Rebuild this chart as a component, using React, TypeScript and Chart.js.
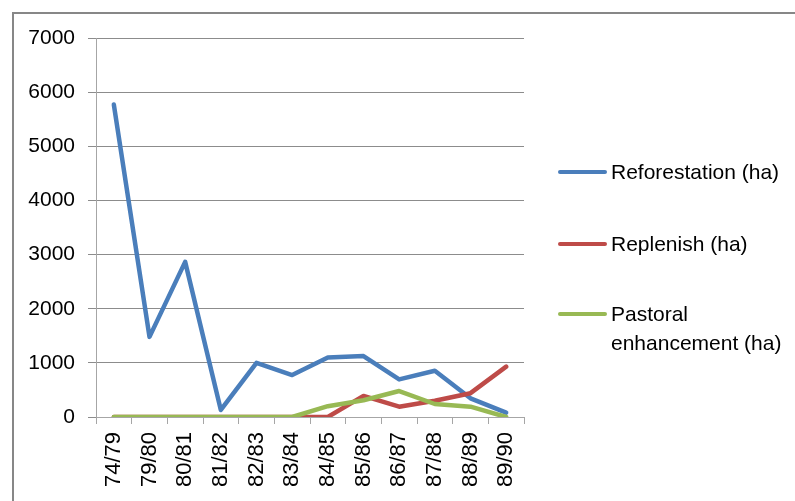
import React, { useEffect, useRef } from "react";
import { Chart, registerables } from "chart.js";

Chart.register(...registerables);

const categories = ["74/79", "79/80", "80/81", "81/82", "82/83", "83/84", "84/85", "85/86", "86/87", "87/88", "88/89", "89/90"];
const reforestation = [5770, 1480, 2865, 130, 1000, 775, 1100, 1125, 695, 855, 345, 80];
const replenish = [0, 0, 0, 0, 0, 0, 0, 390, 190, 300, 440, 930];
const pastoral = [0, 0, 0, 0, 0, 0, 200, 310, 480, 240, 190, 0];
const seriesNames = ["Reforestation (ha)", "Replenish (ha)", "Pastoral enhancement (ha)"];
const seriesColors = ["#4A7EBB", "#BE4B48", "#98B954"];

const FONT = "'Liberation Sans', Arial, sans-serif";

export default function App() {
  const canvasRef = useRef<HTMLCanvasElement | null>(null);

  useEffect(() => {
    const canvas = canvasRef.current;
    if (!canvas) return;
    const chart = new Chart(canvas, {
      type: "line",
      data: {
        labels: categories,
        datasets: [reforestation, replenish, pastoral].map((d, i) => ({
          label: seriesNames[i],
          data: d,
          borderColor: seriesColors[i],
          backgroundColor: seriesColors[i],
          borderWidth: 4.5,
          pointRadius: 0,
          tension: 0,
          borderCapStyle: "round" as const,
          borderJoinStyle: "round" as const,
          order: i === 0 ? 2 : i === 1 ? 1 : 0,
        })),
      },
      options: {
        responsive: false,
        animation: false,
        layout: { padding: { left: 0, top: 38, right: 271, bottom: 0 } },
        plugins: { legend: { display: false }, tooltip: { enabled: false } },
        scales: {
          x: {
            type: "category",
            offset: true,
            afterFit: (s: any) => { s.height = 84; },
            grid: { drawOnChartArea: false, drawTicks: true, tickLength: 7, offset: true, color: "#a6a6a6", lineWidth: 1 },
            border: { display: true, color: "#a6a6a6", width: 1 },
            ticks: { minRotation: 90, maxRotation: 90, autoSkip: false, padding: 8, color: "#000", font: { family: FONT, size: 22 } },
          },
          y: {
            min: 0,
            max: 7000,
            afterFit: (s: any) => { s.width = 96; },
            grid: { color: "#8c8c8c", lineWidth: 1, drawTicks: true, tickLength: 8 },
            border: { display: true, color: "#a6a6a6", width: 1 },
            ticks: { stepSize: 1000, padding: 13, color: "#000", font: { family: FONT, size: 21 }, callback: (v: any) => String(v) },
          },
        },
      },
    });
    return () => chart.destroy();
  }, []);

  const legendRows = [
    { y: 172, lines: ["Reforestation (ha)"], color: seriesColors[0] },
    { y: 244, lines: ["Replenish (ha)"], color: seriesColors[1] },
    { y: 314, lines: ["Pastoral", "enhancement (ha)"], color: seriesColors[2] },
  ];

  return (
    <div style={{ position: "fixed", left: 0, top: 0, width: 795, height: 501, overflow: "hidden", background: "#fff" }}>
      <div style={{ position: "absolute", left: 12, top: 12, width: 820, height: 520, border: "2px solid #878787", boxSizing: "border-box" }} />
      <canvas ref={canvasRef} width={795} height={501} style={{ position: "absolute", left: 0, top: 0, width: 795, height: 501 }} />
      {legendRows.map((r, i) => (
        <div key={i}>
          <div style={{ position: "absolute", left: 558, top: r.y - 2, width: 49, height: 4, borderRadius: 2, background: r.color }} />
          {r.lines.map((t, j) => (
            <div key={j} style={{ position: "absolute", left: 611, top: r.y - 14 + j * 29, height: 28, lineHeight: "28px", fontFamily: FONT, fontSize: 21, color: "#000", whiteSpace: "nowrap" }}>{t}</div>
          ))}
        </div>
      ))}
    </div>
  );
}
